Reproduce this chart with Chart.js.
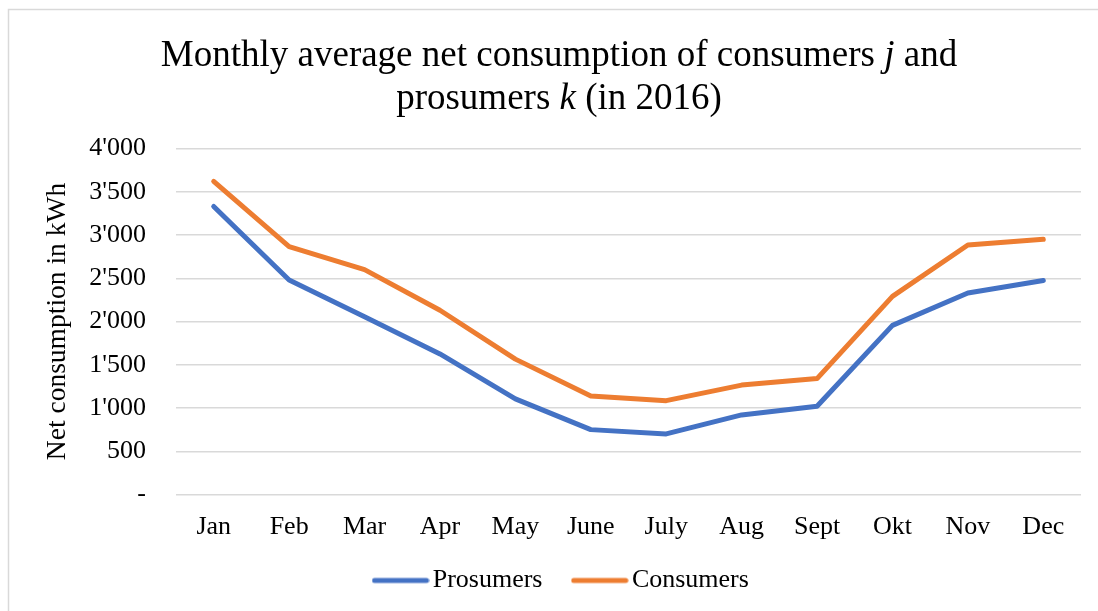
<!DOCTYPE html>
<html>
<head>
<meta charset="utf-8">
<script src="https://cdn.jsdelivr.net/npm/chart.js@4.4.1/dist/chart.umd.min.js"></script>
<style>
  html, body { margin: 0; padding: 0; background: #ffffff; }
  #wrap { width: 1098px; height: 611px; }
</style>
</head>
<body>
<div id="wrap"><canvas id="c" width="1098" height="611"></canvas></div>
<script>
// ---- data ----
const months = ['Jan', 'Feb', 'Mar', 'Apr', 'May', 'June', 'July', 'Aug', 'Sept', 'Okt', 'Nov', 'Dec'];
const prosumers = [3330, 2480, 2055, 1625, 1105, 750, 700, 920, 1020, 1955, 2330, 2475];
const consumers = [3620, 2865, 2600, 2130, 1565, 1140, 1085, 1265, 1340, 2290, 2885, 2950];
const seriesNames = ['Prosumers', 'Consumers'];
const yMin = 0, yMax = 4000, yStep = 500;
const titleLine1 = [['Monthly average net consumption of consumers ', false], ['j', true], [' and', false]];
const titleLine2 = [['prosumers ', false], ['k', true], [' (in 2016)', false]];
const yTitle = 'Net consumption in kWh';

const BLUE = '#4472c4';
const ORANGE = '#ed7d31';
const SERIF = '"Liberation Serif", "Times New Roman", serif';

function legendLine(color) {
  const cv = document.createElement('canvas');
  cv.width = 58; cv.height = 8;
  const g = cv.getContext('2d');
  g.strokeStyle = color; g.lineWidth = 5; g.lineCap = 'round';
  g.beginPath(); g.moveTo(3, 4); g.lineTo(55, 4); g.stroke();
  return cv;
}

function fmtTick(v) {
  if (v === 0) return '-';
  if (v >= 1000) {
    const th = Math.floor(v / 1000);
    const rest = String(v % 1000).padStart(3, '0');
    return th + "'" + rest;
  }
  return String(v);
}

const framePlugin = {
  id: 'frame',
  beforeDraw(chart) {
    const ctx = chart.ctx;
    ctx.save();
    ctx.fillStyle = '#ffffff';
    ctx.fillRect(0, 0, chart.width, chart.height);
    ctx.strokeStyle = '#d9d9d9';
    ctx.lineWidth = 1.5;
    ctx.beginPath();
    ctx.moveTo(8.5, chart.height);
    ctx.lineTo(8.5, 9.5);
    ctx.lineTo(chart.width, 9.5);
    ctx.stroke();
    ctx.restore();
  },
  afterDraw(chart) {
    // title with italic symbols
    const ctx = chart.ctx;
    const size = 37;
    const drawLine = (parts, cx, baseline) => {
      let total = 0;
      parts.forEach(([t, it]) => {
        ctx.font = (it ? 'italic ' : '') + size + 'px ' + SERIF;
        total += ctx.measureText(t).width;
      });
      let x = cx - total / 2;
      parts.forEach(([t, it]) => {
        ctx.font = (it ? 'italic ' : '') + size + 'px ' + SERIF;
        ctx.fillText(t, x, baseline);
        x += ctx.measureText(t).width;
      });
    };
    ctx.save();
    ctx.fillStyle = '#000000';
    ctx.textBaseline = 'alphabetic';
    ctx.textAlign = 'left';
    drawLine(titleLine1, 559, 66);
    drawLine(titleLine2, 559, 108.5);
    ctx.restore();
  },
  afterLayout(chart) {
    const lg = chart.legend;
    if (!lg || !lg.lineWidths) return;
    const pad = lg.options.labels.padding;
    const cur = (lg.left + pad + lg.right - lg.lineWidths[0]) / 2;
    const d = 381.3 - cur;
    lg.left += d; lg.right += d;
    const h = lg.bottom - lg.top;
    lg.top = 529.5; lg.bottom = 529.5 + h;
  }
};

new Chart(document.getElementById('c'), {
  type: 'line',
  data: {
    labels: months,
    datasets: [
      { label: seriesNames[0], data: prosumers, borderColor: BLUE, backgroundColor: BLUE,
        borderWidth: 5, pointRadius: 0, pointHoverRadius: 0, tension: 0,
        borderCapStyle: 'round', borderJoinStyle: 'round', pointStyle: legendLine(BLUE) },
      { label: seriesNames[1], data: consumers, borderColor: ORANGE, backgroundColor: ORANGE,
        borderWidth: 5, pointRadius: 0, pointHoverRadius: 0, tension: 0,
        borderCapStyle: 'round', borderJoinStyle: 'round', pointStyle: legendLine(ORANGE) }
    ]
  },
  options: {
    responsive: false,
    animation: false,
    devicePixelRatio: 1,
    layout: { padding: { top: 148.5, left: 10, right: 17, bottom: -20 } },
    plugins: {
      title: { display: false },
      tooltip: { enabled: false },
      legend: {
        display: true,
        position: 'bottom',
        labels: {
          usePointStyle: true,
          pointStyleWidth: 38.4,
          padding: 38,
          color: '#000000',
          font: { family: SERIF, size: 26 }
        }
      }
    },
    scales: {
      x: {
        offset: true,
        grid: { display: false },
        border: { display: false },
        ticks: { color: '#000000', font: { family: SERIF, size: 26 }, padding: 9, maxRotation: 0, autoSkip: false },
        afterFit(s) { s.height = 62.5; }
      },
      y: {
        min: yMin, max: yMax,
        grid: { color: '#d9d9d9', lineWidth: 1.5, drawTicks: false },
        border: { display: false },
        ticks: { stepSize: yStep, color: '#000000', font: { family: SERIF, size: 26 }, padding: 30,
          callback: (v) => fmtTick(v) },
        title: { display: true, text: yTitle, color: '#000000', font: { family: SERIF, size: 27.5 },
          padding: { top: 31, bottom: 0 } },
        afterFit(s) { s.width = 166; }
      }
    }
  },
  plugins: [framePlugin]
});
</script>
</body>
</html>
